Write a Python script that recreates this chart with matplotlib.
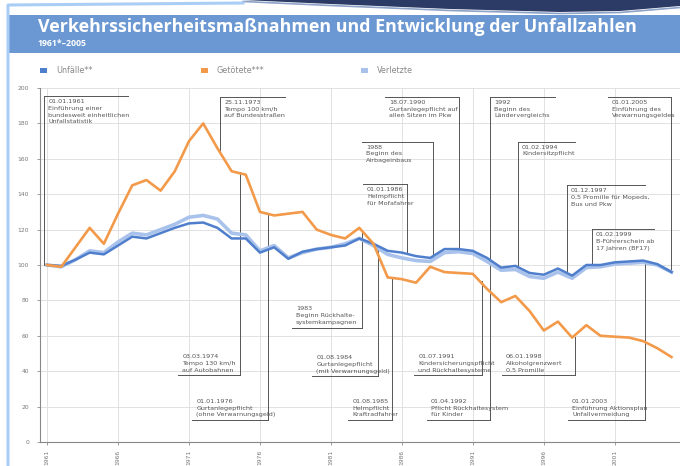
import matplotlib
matplotlib.use("Agg")
import matplotlib.pyplot as plt
from matplotlib.patches import Rectangle, Polygon
from matplotlib.lines import Line2D
import numpy as np

years = list(range(1961, 2006))
unfaelle = [100, 99.5, 103, 107, 106, 111, 116, 115, 118, 121,
            123.5, 124, 121, 115, 115, 107, 110, 103.5, 107.5, 109,
            110, 111, 115, 112, 108, 107, 105, 104, 109, 109,
            108, 104, 98.5, 99.5, 95.5, 94.5, 98, 94, 100, 100,
            101.5, 102, 102.5, 100.5, 96]
verletzte = [100, 99, 103, 108, 107, 113, 118, 117, 120, 123,
             127, 128, 126, 118, 117, 108, 111, 104, 107, 109,
             110, 112, 115, 111, 106, 104, 102.5, 102, 107, 107.5,
             106.5, 102, 97, 97.5, 93.5, 92.5, 96, 92.5, 98.5, 99,
             100.5, 101, 101.5, 100, 96]
getoetete = [100, 99, 110, 121, 112, 129, 145, 148, 142, 153,
             170, 180, 166, 153, 151, 130, 128, 129, 130, 120,
             117, 115, 121, 112, 93, 92, 90, 99, 96, 95.5,
             95, 86.5, 79, 82.5, 74, 63, 68, 59, 66, 60,
             59.5, 59, 57, 53, 48]

tick_years = [1961, 1966, 1971, 1976, 1981, 1986, 1991, 1996, 2001]
y_ticks = [0, 20, 40, 60, 80, 100, 120, 140, 160, 180, 200]

title = "Verkehrssicherheitsmaßnahmen und Entwicklung der Unfallzahlen"
subtitle = "1961*–2005"
legend_labels = ["Unfälle**", "Getötete***", "Verletzte"]

# upper boxes: (line_x, box_x0, box_x1, top_value, line_end_value, text)
upper_notes = [
    (1960.79, 1960.79, 1966.7, 195.5, 100,
     "01.01.1961\nEinführung einer\nbundesweit einheitlichen\nUnfallstatistik"),
    (1973.18, 1973.18, 1977.8, 195, 164,
     "25.11.1973\nTempo 100 km/h\nauf Bundesstraßen"),
    (1990.01, 1984.8, 1990.01, 195, 109,
     "18.07.1990\nGurtanlegepflicht auf\nallen Sitzen im Pkw"),
    (1988.18, 1983.18, 1988.18, 169.7, 104,
     "1988\nBeginn des\nAirbageinbaus"),
    (1986.35, 1983.25, 1986.35, 145.5, 106,
     "01.01.1986\nHelmpflicht\nfür Mofafahrer"),
    (1992.2, 1992.2, 1996.8, 195, 103,
     "1992\nBeginn des\nLändervergleichs"),
    (1994.17, 1994.17, 1998.2, 169.7, 99.5,
     "01.02.1994\nKindersitzpflicht"),
    (2005.0, 2000.5, 2005.0, 195, 96.5,
     "01.01.2005\nEinführung des\nVerwarnungsgeldes"),
    (1997.62, 1997.62, 2003.1, 145, 96.5,
     "01.12.1997\n0,5 Promille für Mopeds,\nBus und Pkw"),
    (1999.38, 1999.38, 2003.8, 120.2, 100,
     "01.02.1999\nB-Führerschein ab\n17 Jahren (BF17)"),
]
# lower boxes: (line_x, box_x0, box_x1, bottom_value, line_end_value, text)
lower_notes = [
    (1974.59, 1970.23, 1974.59, 37.6, 152.5,
     "03.03.1974\nTempo 130 km/h\nauf Autobahnen"),
    (1976.56, 1971.21, 1976.56, 12.4, 129.5,
     "01.01.1976\nGurtanlegepflicht\n(ohne Verwarnungsgeld)"),
    (1983.18, 1978.25, 1983.18, 64.6, 120,
     "1983\nBeginn Rückhalte-\nsystemkampagnen"),
    (1984.31, 1979.66, 1984.31, 37.1, 111,
     "01.08.1984\nGurtanlegepflicht\n(mit Verwarnungsgeld)"),
    (1985.3, 1982.2, 1985.3, 12.4, 93,
     "01.08.1985\nHelmpflicht\nKraftradfahrer"),
    (1991.63, 1986.85, 1991.63, 37.6, 91,
     "01.07.1991\nKindersicherungspflicht\nund Rückhaltesysteme"),
    (1992.2, 1987.76, 1992.2, 12.4, 103,
     "01.04.1992\nPflicht Rückhaltesystem\nfür Kinder"),
    (1998.18, 1993.04, 1998.18, 37.6, 59.5,
     "06.01.1998\nAlkoholgrenzwert\n0,5 Promille"),
    (2003.11, 1997.69, 2003.11, 12.4, 101.5,
     "01.01.2003\nEinführung Aktionsplan\nUnfallvermeidung"),
]

W, H = 680, 466
fig = plt.figure(figsize=(W / 100, H / 100), dpi=100)
fig.patch.set_facecolor("white")

def fx(px):
    return px / W

def fy(py):
    return 1 - py / H

# decorative top swoosh
sw = [(243, 0), (330, 4), (450, 9), (560, 12), (620, 11), (680, 6), (680, 0)]
fig.patches.append(Polygon([(fx(a), fy(b)) for a, b in sw], closed=True,
                           transform=fig.transFigure, facecolor="#2c3a66",
                           edgecolor="none", zorder=0))
fig.lines.append(Line2D([fx(a) for a, b in sw[:6]], [fy(b + 1.5) for a, b in sw[:6]],
                        transform=fig.transFigure, color="#8ea3c8", lw=1.2))
# light blue frame
fig.lines.append(Line2D([fx(8), fx(8), fx(243)], [fy(466), fy(5), fy(3)],
                        transform=fig.transFigure, color="#a9cdf5", lw=2.2))
# banner
fig.patches.append(Rectangle((fx(9), fy(53)), fx(680 - 9), 38 / H,
                             transform=fig.transFigure, facecolor="#6b98d2",
                             edgecolor="none", zorder=0))
fig.text(fx(38), fy(27), title, color="white", fontsize=12.9,
         fontweight="bold", family="Open Sans", va="center", ha="left")
fig.text(fx(38), fy(43), subtitle, color="white", fontsize=6.3,
         fontweight="bold", family="Open Sans", va="center", ha="left")

# legend
leg_colors = ["#4f7fcc", "#f39a4a", "#a9c2ec"]
leg_x = [40, 201, 361]
for lx, c, lab in zip(leg_x, leg_colors, legend_labels):
    fig.patches.append(Rectangle((fx(lx), fy(73)), 7 / W, 5 / H,
                                 transform=fig.transFigure, facecolor=c,
                                 edgecolor="none"))
    fig.text(fx(lx + 16), fy(70.5), lab, color="#888888", fontsize=5.8,
             va="center", ha="left")

# axes
ax = fig.add_axes([fx(40), fy(442), fx(640), (442 - 88) / H])
ax.set_xlim(1960.5, 2005.6)
ax.set_ylim(0, 200)
ax.set_facecolor("white")
ax.set_yticks(y_ticks)
ax.set_yticklabels([str(v) for v in y_ticks])
ax.set_xticks(tick_years)
ax.set_xticklabels([str(v) for v in tick_years], rotation=90)
ax.tick_params(axis="both", labelsize=4.3, colors="#777777", length=2,
               width=0.5)
ax.tick_params(axis="y", pad=6)
ax.grid(True, color="#dcdcdc", lw=0.6)
ax.set_axisbelow(True)
for s in ["top", "right"]:
    ax.spines[s].set_visible(False)
for s in ["left", "bottom"]:
    ax.spines[s].set_color("#888888")
    ax.spines[s].set_linewidth(0.8)

note_kw = dict(color="#555555", lw=0.7, zorder=2, clip_on=False)
txt_kw = dict(fontsize=4.6, color="#555555", linespacing=1.45, zorder=2,
              clip_on=False)
for lxp, x0, x1, top, end, txt in upper_notes:
    ax.plot([x0, x1], [top, top], **note_kw)
    ax.plot([lxp, lxp], [top, end], **note_kw)
    ax.text(x0 + 0.3, top - 1.7, txt, va="top", ha="left", **txt_kw)
for lxp, x0, x1, bot, end, txt in lower_notes:
    ax.plot([x0, x1], [bot, bot], **note_kw)
    ax.plot([lxp, lxp], [bot, end], **note_kw)
    ax.text(x0 + 0.3, bot + 1.5, txt, va="bottom", ha="left", **txt_kw)

ax.plot(years, verletzte, color="#a9c2ec", lw=2.6, zorder=3,
        solid_joinstyle="round")
ax.plot(years, unfaelle, color="#4f7fcc", lw=1.8, zorder=4,
        solid_joinstyle="round")
ax.plot(years, getoetete, color="#f39a4a", lw=1.9, zorder=5,
        solid_joinstyle="round")

fig.savefig("out.png", dpi=100)
